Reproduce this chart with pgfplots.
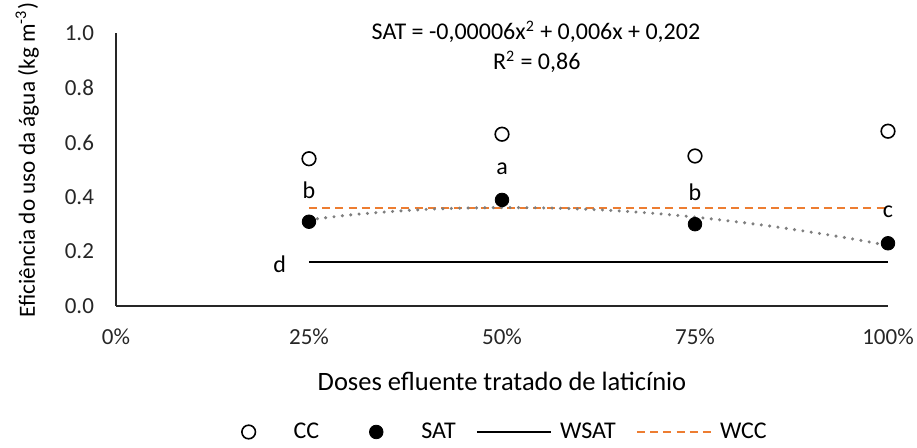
\documentclass[border=0pt]{standalone}
\usepackage{fontspec}
\setmainfont{Carlito}
\usepackage{pgfplots}
\pgfplotsset{compat=1.18}
\definecolor{exorange}{HTML}{ED7D31}
\definecolor{exgray}{HTML}{7F7F7F}

\pgfplotsset{
  swatch/.style={legend image code/.code={%
    \path[draw=none, fill=none] (0pt,0pt) -- (37pt,0pt);
    \draw[mark repeat=2,mark phase=2,##1] plot coordinates {(0pt,0pt) (18.5pt,0pt) (37pt,0pt)};}},
}

\begin{document}
\begin{tikzpicture}
\useasboundingbox (-58pt,-71pt) rectangle (400.5pt,153pt);
\begin{axis}[
  at={(0,0)}, anchor=origin,
  scale only axis,
  width=386pt, height=136.35pt,
  xmin=0, xmax=100, ymin=0, ymax=1,
  axis x line*=bottom, axis y line*=left,
  axis line style={-, line width=0.7pt, black!85},
  major tick length=0pt,
  xtick={0,25,50,75,100},
  xticklabels={0\%,25\%,50\%,75\%,100\%},
  ytick={0,0.2,0.4,0.6,0.8,1.0},
  yticklabel style={/pgf/number format/.cd,fixed,fixed zerofill,precision=1},
  /pgf/number format/assume math mode=true,
  tick label style={font=\fontsize{11.5}{13}\selectfont, text=black!85},
  xticklabel shift=8pt,
  yticklabel shift=7.5pt,
  xlabel={Doses efluente tratado de laticínio},
  xlabel style={at={(axis description cs:0.5,-0.275)}, anchor=center, font=\fontsize{13.25}{15}\selectfont},
  ylabel={Eficiência do uso da água (kg m\textsuperscript{-3})},
  ylabel style={at={(axis description cs:-0.115,0.535)}, anchor=center, font=\fontsize{11.6}{14}\selectfont},
  clip=false,
  legend columns=4,
  legend style={draw=none, fill=none, at={(axis description cs:0.486,-0.462)}, anchor=center,
    font=\fontsize{12}{14}\selectfont,
    /tikz/every even column/.append style={column sep=8pt},
    /tikz/every odd column/.append style={column sep=2pt}},
]

% CC
\addplot[only marks, mark=o, mark size=3.4pt, mark options={line width=0.8pt, black, fill=white}, swatch] coordinates {
  (25,0.540) (50,0.630) (75,0.550) (100,0.641)
};
\addlegendentry{CC}

% SAT
\addplot[only marks, mark=*, mark size=3.4pt, black, swatch] coordinates {
  (25,0.309) (50,0.389) (75,0.300) (100,0.230)
};
\addlegendentry{SAT}

% WSAT
\addplot[black, line width=1.1pt, swatch] coordinates {(25,0.160) (100,0.160)};
\addlegendentry{WSAT}

% WCC
\addplot[exorange, line width=1.1pt, dash pattern=on 4pt off 2.6pt, swatch] coordinates {(25,0.360) (100,0.360)};
\addlegendentry{WCC}

% SAT trend
\addplot[exgray, line width=1.7pt, line cap=round, dash pattern=on 0pt off 4.2pt, smooth, forget plot] coordinates {
  (25,0.316) (30,0.333) (35,0.345) (40,0.354) (45,0.359) (50,0.361) (55,0.360)
  (60,0.356) (65,0.349) (70,0.339) (75,0.326) (80,0.310) (85,0.292) (90,0.271)
  (95,0.248) (100,0.222)
};

% letters
\node[font=\fontsize{12}{14}\selectfont] at (axis cs:25,0.425) {b};
\node[font=\fontsize{12}{14}\selectfont] at (axis cs:50,0.505) {a};
\node[font=\fontsize{12}{14}\selectfont] at (axis cs:75,0.416) {b};
\node[font=\fontsize{12}{14}\selectfont] at (axis cs:100,0.344) {c};
\node[font=\fontsize{12}{14}\selectfont] at (axis cs:21.2,0.154) {d};

% equation
\node[font=\fontsize{12}{14}\selectfont] at (axis cs:54.4,1.005) {SAT = -0,00006x\textsuperscript{2} + 0,006x + 0,202};
\node[font=\fontsize{12}{14}\selectfont] at (axis cs:54.5,0.895) {R\textsuperscript{2} = 0,86};

\end{axis}
\end{tikzpicture}
\end{document}
